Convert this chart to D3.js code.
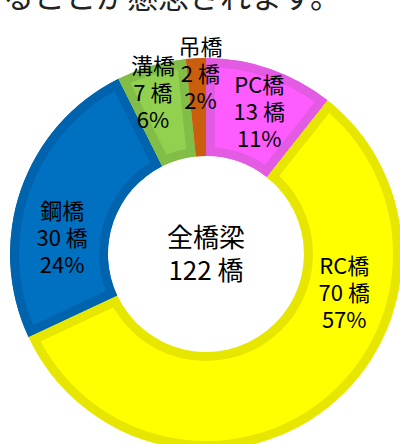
<!DOCTYPE html>
<html><head><meta charset="utf-8">
<script src="https://cdn.jsdelivr.net/npm/d3@7"></script>
<style>
html,body{margin:0;padding:0;background:#fff;overflow:hidden;}
svg{display:block;}
text{font-family:"Noto Sans CJK JP","Noto Sans",sans-serif;fill:#000;}
</style></head>
<body>
<script>
// ---- data ----
const categories = ["PC橋", "RC橋", "鋼橋", "溝橋", "吊橋"];
const counts = [13, 70, 30, 7, 2];
const percentLabels = ["11%", "57%", "24%", "6%", "2%"];
const countUnit = "橋";
const centerTitle = "全橋梁";
const totalLabel = "122 橋";
const captionText = "することが懸念されます。";

// ---- styling / layout ----
const fills   = ["#FF5CFF", "#FFFF00", "#0070C0", "#92D050", "#D2620F"];
const borders = ["#E35AE3", "#E6E600", "#0063AD", "#82BE47", "#C95E0F"];
const labelNudge = [[5, -3], [47, -76], [-5, 32], [-12, -20], [2, -33]];

const W = 400, H = 444;
const cx = 206, cy = 254, R = 196, r = 98, border = 9;

const svg = d3.select("body").append("svg").attr("width", W).attr("height", H);

svg.append("text")
  .attr("x", 341).attr("y", 8)
  .attr("text-anchor", "end")
  .style("font-size", "31px")
  .style("fill", "#222")
  .text(captionText);

const pie = d3.pie().sort(null).value(d => d.count).startAngle(0).endAngle(2 * Math.PI);
const data = categories.map((c, i) => ({ name: c, count: counts[i], pct: percentLabels[i], i }));
const arcs = pie(data);
const arc = d3.arc().innerRadius(r).outerRadius(R);

const g = svg.append("g").attr("transform", `translate(${cx},${cy})`);
const defs = svg.append("defs");

arcs.forEach((a, i) => {
  defs.append("clipPath").attr("id", "clip" + i)
    .append("path").attr("d", arc(a));
});

g.selectAll("path.slice").data(arcs).join("path")
  .attr("class", "slice")
  .attr("d", arc)
  .attr("fill", d => fills[d.data.i])
  .attr("stroke", d => borders[d.data.i])
  .attr("stroke-width", border * 2)
  .attr("clip-path", d => `url(#clip${d.data.i})`);

const labels = g.selectAll("text.lab").data(arcs).join("text")
  .attr("class", "lab")
  .attr("text-anchor", "middle")
  .style("font-size", "22px")
  .attr("transform", d => {
    const [x, y] = arc.centroid(d);
    const n = labelNudge[d.data.i];
    return `translate(${x + n[0]},${y + n[1]})`;
  });

labels.each(function(d) {
  const lines = [d.data.name, d.data.count + " " + countUnit, d.data.pct];
  d3.select(this).selectAll("tspan").data(lines).join("tspan")
    .attr("x", 0).attr("y", (t, k) => (k - 1) * 27 + 8)
    .text(t => t);
});

const ct = g.append("text").attr("text-anchor", "middle").style("font-size", "26px");
ct.selectAll("tspan").data([centerTitle, totalLabel]).join("tspan")
  .attr("x", 0).attr("y", (t, k) => (k === 0 ? -16 : 17) + 9)
  .text(t => t);
</script>
</body></html>
